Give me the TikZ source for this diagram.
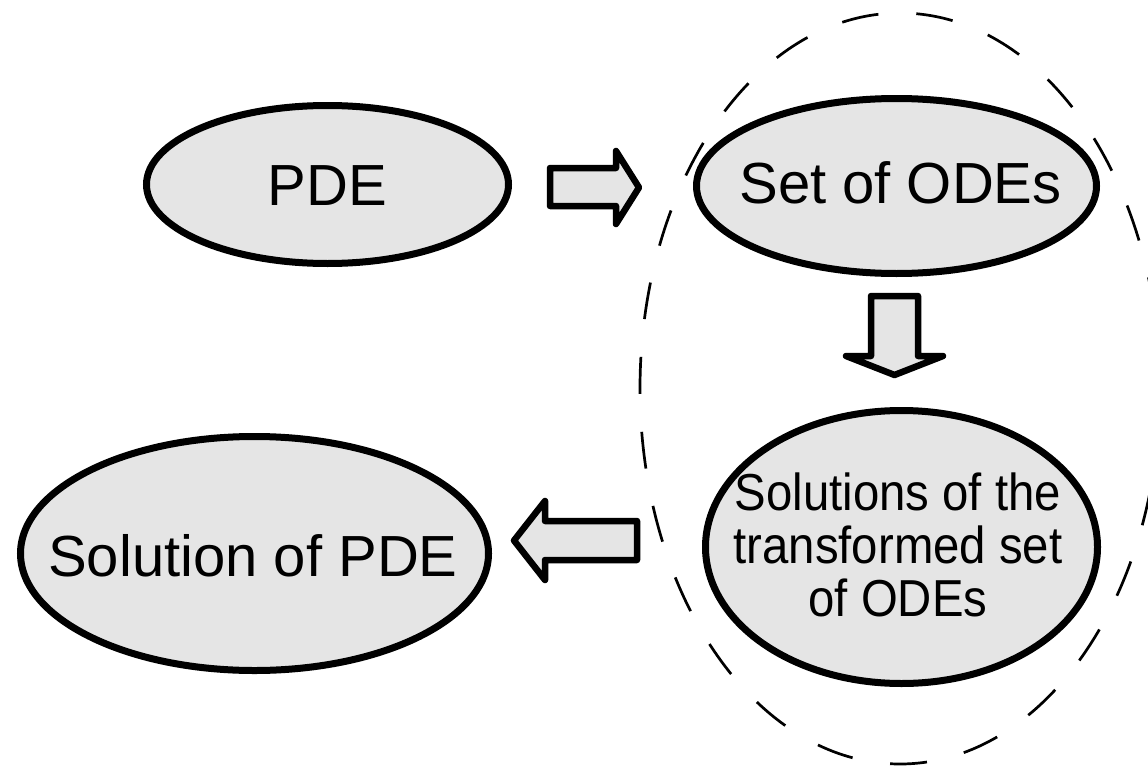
\documentclass[tikz,border=0pt]{standalone}
\usepackage{fontspec}
\setmainfont{Liberation Sans}
\newfontfamily\narrowsans[FakeStretch=0.91]{Liberation Sans}
\usetikzlibrary{shapes.geometric}
\definecolor{boxgray}{RGB}{229,229,229}
\begin{document}
\begin{tikzpicture}[x=1pt,y=-1pt,
  bubble/.style={ellipse, draw=black, line width=7pt, fill=boxgray, inner sep=0pt, outer sep=0pt},
  blockarrow/.style={draw=black, line width=6.5pt, fill=boxgray, line join=round},
  bigtxt/.style={font=\fontsize{58}{60}\selectfont, inner sep=0pt, anchor=base},
  smalltxt/.style={font=\narrowsans\fontsize{52}{53}\selectfont, align=center, inner sep=0pt},
  groupline/.style={draw=black, line width=2.7pt, dash pattern=on 37pt off 38pt}]
\useasboundingbox (0,0) rectangle (1148,768);
\fill[white] (0,0) rectangle (1148,768);
\clip (0,0) rectangle (1148,768);
% dashed grouping ellipse
\draw[groupline] (900,388.5) ellipse [x radius=260pt, y radius=375.5pt];
% ellipses
\node[bubble, minimum width=362pt, minimum height=158pt] (pde) at (327.5,184.5) {};
\node[bubble, minimum width=400pt, minimum height=175pt] (odes) at (896.5,186) {};
\node[bubble, minimum width=392pt, minimum height=273pt] (sols) at (901.5,547) {};
\node[bubble, minimum width=468pt, minimum height=234pt] (solpde) at (254.5,553.5) {};
% texts
\node[bigtxt] (pdetxt) at (327.5,205) {PDE};
\node[bigtxt] (odestxt) at (900.5,203) {Set of ODEs};
\node[bigtxt] (solpdetxt) at (253,576) {Solution of PDE};
\node[smalltxt] (solstxt) at (898,545) {Solutions of the\\transformed set\\of ODEs};
% block arrows
\draw[blockarrow] (550,168) -- (616,168) -- (616,151) -- (639,187.5) -- (616,224) -- (616,206) -- (550,206) -- cycle;
\draw[blockarrow] (871,296) -- (918,296) -- (918,356) -- (943,356) -- (894.5,375) -- (846,356) -- (871,356) -- cycle;
\draw[blockarrow] (637,521) -- (545,521) -- (545,501) -- (514,540.5) -- (545,580) -- (545,560) -- (637,560) -- cycle;
\end{tikzpicture}
\end{document}
